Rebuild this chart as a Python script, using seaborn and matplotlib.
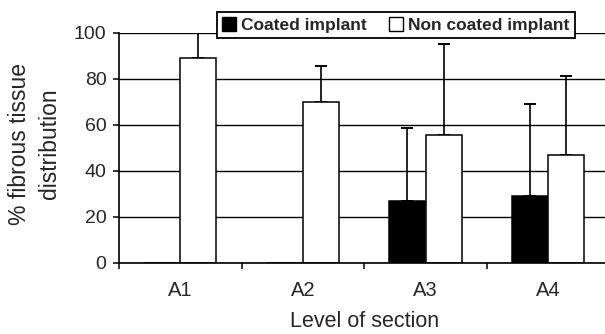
import matplotlib
matplotlib.use("Agg")
import matplotlib.pyplot as plt
from matplotlib.patches import Patch
import seaborn as sns
import pandas as pd
import numpy as np

# ---- data ----
sections = ["A1", "A2", "A3", "A4"]
groups = ["Coated implant", "Non coated implant"]
coated_mean = [0, 0, 27, 29]
coated_sd = [0, 0, 31.5, 40]
noncoated_mean = [89, 70, 55.5, 47]
noncoated_sd = [11, 15.7, 39.5, 34]
yticks = [0, 20, 40, 60, 80, 100]

df = pd.DataFrame({
    "section": sections * 2,
    "group": [groups[0]] * 4 + [groups[1]] * 4,
    "value": coated_mean + noncoated_mean,
    "sd": coated_sd + noncoated_sd,
})

sns.set_style("white")
plt.rcParams["font.family"] = ["Liberation Sans", "DejaVu Sans"]

fig = plt.figure(figsize=(6.05, 3.34), dpi=100)
ax = fig.add_axes([119 / 605, 71.3 / 334, 490.4 / 605, 230 / 334])

sns.barplot(data=df, x="section", y="value", hue="group",
            palette={groups[0]: "black", groups[1]: "white"},
            edgecolor="black", linewidth=1.1, width=0.59,
            errorbar=None, ax=ax, legend=False, zorder=3)

# one-sided (upward) error bars placed at the bar centres
for bar, (_, row) in zip(ax.patches, df.iterrows()):
    if row["value"] <= 0:
        continue
    xc = bar.get_x() + bar.get_width() / 2
    ax.errorbar(xc, row["value"], yerr=[[0], [row["sd"]]], fmt="none",
                ecolor="black", elinewidth=1.2, capsize=4.5, capthick=1.4,
                zorder=2)

ax.set_ylim(0, 100)
ax.set_xlim(-0.5, 3.5)
ax.set_yticks(yticks)
ax.yaxis.grid(True, color="black", linewidth=1.0)
ax.xaxis.grid(False)
ax.set_axisbelow(True)

for s in ["top", "right"]:
    ax.spines[s].set_visible(False)
for s in ["left", "bottom"]:
    ax.spines[s].set_visible(True)
    ax.spines[s].set_color("black")
    ax.spines[s].set_linewidth(1.2)
ax.spines["left"].set_zorder(4)
ax.spines["bottom"].set_zorder(4)

ax.tick_params(axis="y", which="major", direction="out", length=4, width=1.1,
               color="black", labelsize=14, pad=5, left=True)
ax.tick_params(axis="x", which="major", length=0, labelsize=14.5, pad=13)
ax.set_xticks([-0.5, 0.5, 1.5, 2.5, 3.5], minor=True)
ax.tick_params(axis="x", which="minor", direction="out", length=4, width=1.1,
               color="black", bottom=True)

ax.set_xlabel("Level of section", fontsize=15.5, labelpad=8)
ax.set_ylabel("% fibrous tissue\ndistribution", fontsize=16.5, linespacing=1.35)
ax.yaxis.label.set_va("center")
ax.yaxis.set_label_coords((34.5 - 119) / 490.4, 0.518)

handles = [Patch(facecolor="black", edgecolor="black"),
           Patch(facecolor="white", edgecolor="black")]
leg = ax.legend(handles, groups, loc="center",
                bbox_to_anchor=(0.5646, 1.0328), ncol=2,
                frameon=True, fancybox=False, framealpha=1, edgecolor="black",
                handlelength=0.8, handleheight=0.8, handletextpad=0.3,
                columnspacing=1.3, borderpad=0.3, borderaxespad=0,
                prop={"weight": "bold", "size": 12.5})
leg.get_frame().set_linewidth(1.3)
leg.set_zorder(10)

fig.savefig("out.png", dpi=100)
